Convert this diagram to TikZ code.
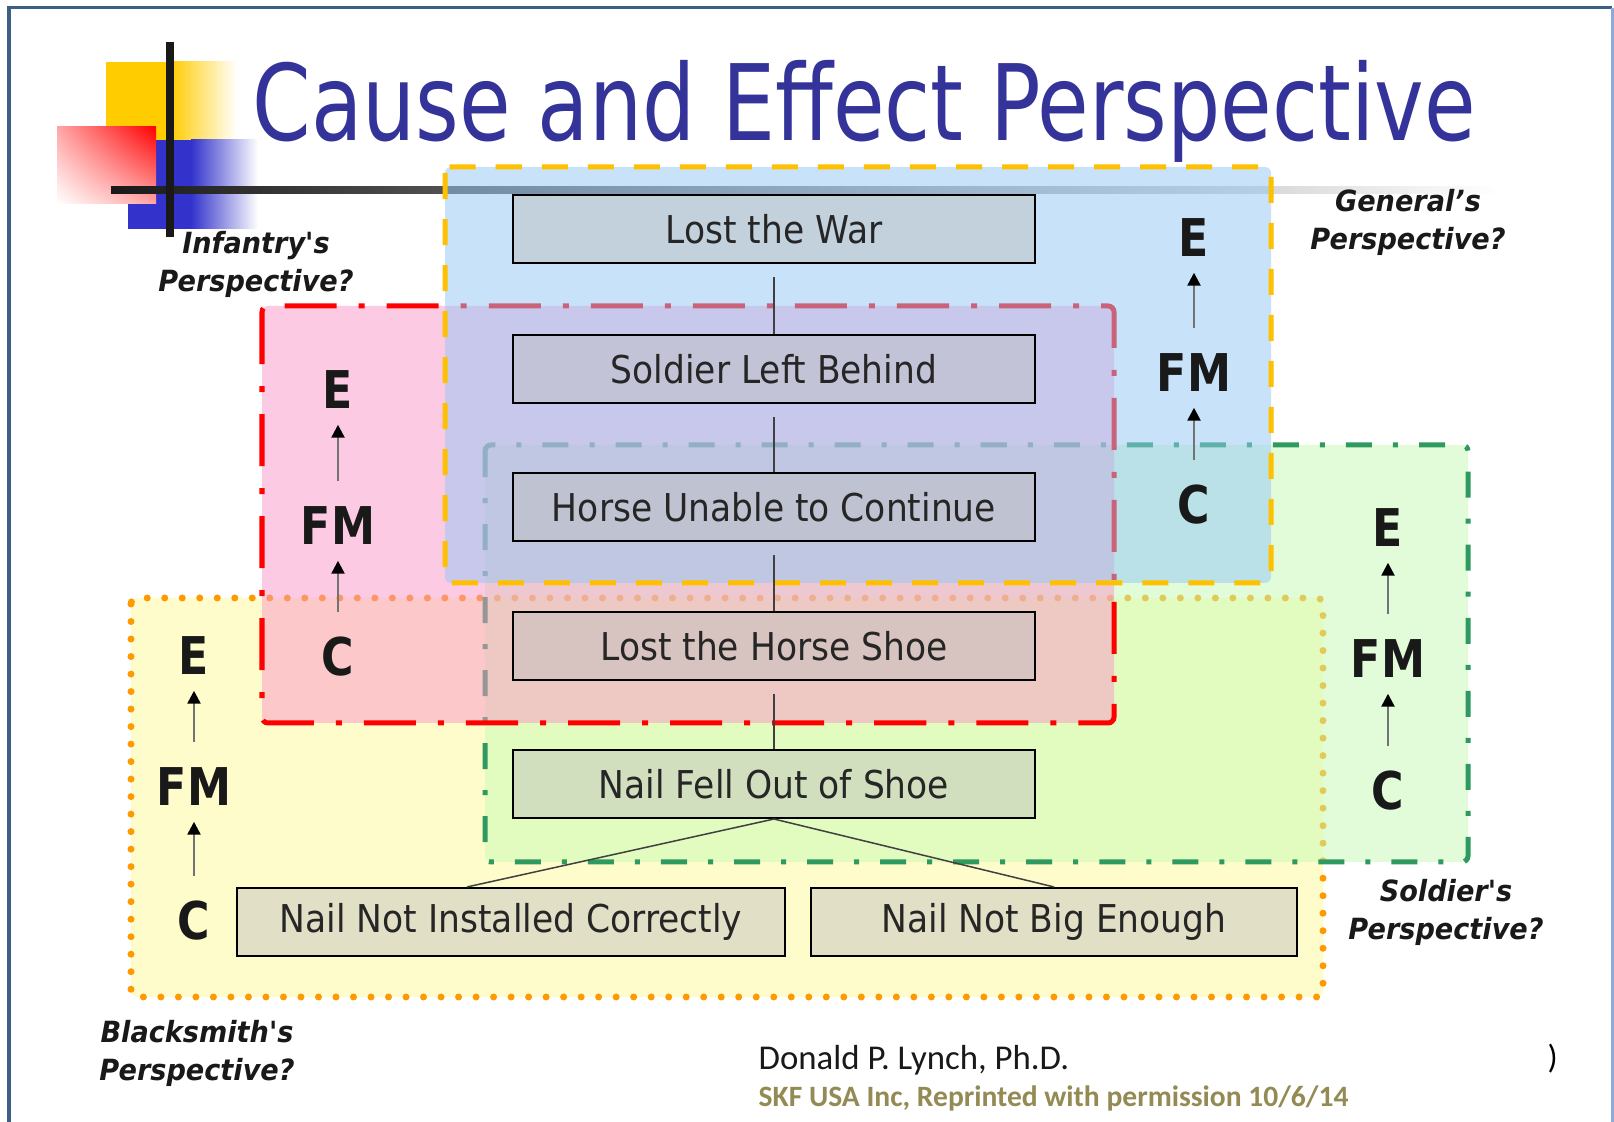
\documentclass[tikz,border=0pt]{standalone}
\usepackage{fontspec}
\usepackage{graphicx}
\usetikzlibrary{arrows.meta,shadings}
\newfontfamily\dejavu{DejaVu Sans}
\newfontfamily\carlito{Carlito}
\definecolor{titleblue}{HTML}{333399}
\definecolor{genfill}{RGB}{147,199,245}
\definecolor{genline}{HTML}{FFC000}
\definecolor{inffill}{RGB}{250,150,200}
\definecolor{infline}{HTML}{FF0000}
\definecolor{solfill}{RGB}{199,251,181}
\definecolor{solline}{HTML}{2E9A60}
\definecolor{smithfill}{RGB}{255,251,153}
\definecolor{smithline}{HTML}{FF9900}
\definecolor{boxgray}{RGB}{190,190,190}
\definecolor{skfolive}{HTML}{948A54}
\definecolor{framedark}{HTML}{3E5F84}
\definecolor{framelight}{HTML}{8EAADB}
\definecolor{logoyellow}{HTML}{FFCC00}
\definecolor{logoblue}{HTML}{3333CC}
\newcommand{\squeeze}[2]{% narrower, Tahoma-like text
\scalebox{#1}[1]{#2}}
\newcommand{\persp}[1]{% two-line perspective tag
\squeeze{0.93}{#1}\\\squeeze{0.93}{Perspective?}}
\tikzstyle{zone} = [
    line width=0.05cm,
    rounded corners=0.06cm,
    fill opacity=0.5
    ]
\tikzstyle{genzone} = [zone, draw=genline, fill=genfill,
    dash pattern=on 0.26cm off 0.2cm]
\tikzstyle{infzone} = [zone, draw=infline, fill=inffill,
    dash pattern=on 0.52cm off 0.22cm on 0.06cm off 0.22cm]
\tikzstyle{solzone} = [zone, draw=solline, fill=solfill,
    dash pattern=on 0.26cm off 0.21cm on 0.05cm off 0.21cm]
\tikzstyle{smithzone} = [zone, draw=smithline, fill=smithfill,
    line width=0.07cm, line cap=round,
    dash pattern=on 0cm off 0.175cm]
\tikzstyle{event} = [
    draw=black,
    line width=0.02cm,
    fill=boxgray,
    fill opacity=0.46,
    text opacity=1,
    text=black!85,
    minimum width=5.22cm,
    minimum height=0.68cm,
    inner sep=0pt,
    font=\dejavu\fontsize{10.9}{13}\selectfont
    ]
\tikzstyle{link} = [draw=black!75, line width=0.015cm]
\tikzstyle{stage} = [
    inner sep=0pt,
    text height=0.38cm,
    text depth=0cm,
    text=black!90,
    font=\dejavu\bfseries\fontsize{14.8}{16}\selectfont
    ]
\tikzstyle{causal} = [
    draw=black!55,
    line width=0.025cm,
    -{Triangle[width=0.13cm,length=0.13cm,color=black]},
    shorten <=0.24cm,
    shorten >=0.16cm
    ]
\tikzstyle{viewpoint} = [
    align=center,
    inner sep=0pt,
    text=black!90,
    font=\dejavu\bfseries\itshape\fontsize{8.3}{10.8}\selectfont
    ]

\begin{document}
\begin{tikzpicture}[x=0.01cm, y=-0.01cm]
\useasboundingbox (0,0) rectangle (1614,1122);
\fill[white] (0,0) rectangle (1614,1122);
% slide frame
\draw[framedark, line width=0.03cm] (9,1122) -- (9,8) -- (1612,8);
\draw[framelight, line width=0.03cm] (1612,8) -- (1612,1122);
% logo
\fill[logoyellow] (106,62) rectangle (170,140);
\shade[left color=logoyellow, right color=white] (170,62) rectangle (237,140);
\fill[logoblue] (128,140) rectangle (191,229);
\shade[left color=logoblue, right color=white] (191,140) rectangle (258,229);
\shade[upper right=red, upper left=red!35, lower right=red!35, lower left=white]
    (57,127) rectangle (156,204);
\shade[left color=black!90, right color=white] (111,187) rectangle (1500,194);
\fill[black!90] (166,42) rectangle (174,237);
\node[anchor=base west, inner sep=0pt, text=titleblue,
    font=\dejavu\fontsize{30}{36}\selectfont] (title) at (252,141)
    {\squeeze{0.795}{Cause and Effect Perspective}};
% perspectives, back to front
\draw[smithzone] (131,598) rectangle (1323,997);
\draw[solzone] (485,445) rectangle (1468,862);
\draw[infzone] (262,306) rectangle (1114,723);
\draw[genzone] (445,167) rectangle (1271,583);
% chain of events
\node[event] (war) at (774,229) {\squeeze{0.9}{Lost the War}};
\node[event] (behind) at (774,369) {\squeeze{0.9}{Soldier Left Behind}};
\node[event] (horse) at (774,507) {\squeeze{0.9}{Horse Unable to Continue}};
\node[event] (shoe) at (774,646) {\squeeze{0.9}{Lost the Horse Shoe}};
\node[event] (nail) at (774,784) {\squeeze{0.9}{Nail Fell Out of Shoe}};
\node[event, minimum width=5.48cm] (install) at (511,922)
    {\squeeze{0.9}{Nail Not Installed Correctly}};
\node[event, minimum width=4.85cm] (size) at (1054,922)
    {\squeeze{0.9}{Nail Not Big Enough}};
\draw[link, shorten <=0.13cm] (war) -- (behind);
\draw[link, shorten <=0.13cm] (behind) -- (horse);
\draw[link, shorten <=0.13cm] (horse) -- (shoe);
\draw[link, shorten <=0.13cm] (shoe) -- (nail);
\draw[link] (nail.south) -- ([xshift=-0.44cm]install.north);
\draw[link] (nail.south) -- (size.north);
% E / FM / C columns
\node[stage] (genE) at (1194,237) {\squeeze{0.85}{E}};
\node[stage] (genFM) at (1194,372) {\squeeze{0.85}{FM}};
\node[stage] (genC) at (1194,504) {\squeeze{0.85}{C}};
\node[stage] (infE) at (338,389) {\squeeze{0.85}{E}};
\node[stage] (infFM) at (338,525) {\squeeze{0.85}{FM}};
\node[stage] (infC) at (338,656) {\squeeze{0.85}{C}};
\node[stage] (smithE) at (194,655) {\squeeze{0.85}{E}};
\node[stage] (smithFM) at (194,786) {\squeeze{0.85}{FM}};
\node[stage] (smithC) at (194,920) {\squeeze{0.85}{C}};
\node[stage] (solE) at (1388,527) {\squeeze{0.85}{E}};
\node[stage] (solFM) at (1388,658) {\squeeze{0.85}{FM}};
\node[stage] (solC) at (1388,790) {\squeeze{0.85}{C}};
\draw[causal] (genFM) -- (genE);
\draw[causal] (genC) -- (genFM);
\draw[causal] (infFM) -- (infE);
\draw[causal] (infC) -- (infFM);
\draw[causal] (smithFM) -- (smithE);
\draw[causal] (smithC) -- (smithFM);
\draw[causal] (solFM) -- (solE);
\draw[causal] (solC) -- (solFM);
% whose view
\node[viewpoint] (genTag) at (1408,222) {\persp{General’s}};
\node[viewpoint] (infTag) at (256,264) {\persp{Infantry\textquotesingle s}};
\node[viewpoint] (solTag) at (1446,912) {\persp{Soldier\textquotesingle s}};
\node[viewpoint] (smithTag) at (197,1053) {\persp{Blacksmith\textquotesingle s}};
% footer
\node[anchor=base west, inner sep=0pt, text=black!90,
    font=\carlito\fontsize{9.9}{11}\selectfont] (author) at (758,1070)
    {Donald P. Lynch, Ph.D.};
\node[anchor=base west, inner sep=0pt, text=skfolive,
    font=\carlito\bfseries\fontsize{8.4}{10}\selectfont] (credit) at (758,1107)
    {SKF USA Inc, Reprinted with permission 10/6/14};
\node[anchor=base west, inner sep=0pt,
    font=\carlito\fontsize{9.5}{11}\selectfont] (slideno) at (1547,1069) {)};
\end{tikzpicture}
\end{document}
